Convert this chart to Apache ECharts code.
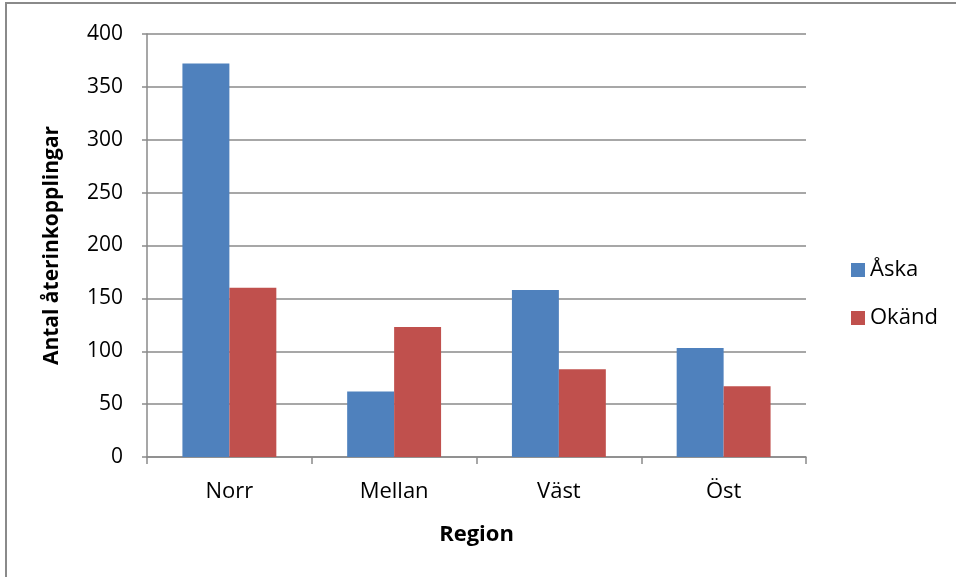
<!DOCTYPE html>
<html>
<head>
<meta charset="utf-8">
<script src="https://cdn.jsdelivr.net/npm/echarts@6/dist/echarts.min.js"></script>
<style>
  html, body { margin: 0; padding: 0; background: #fff; }
  #chart { position: absolute; left: 0; top: 0; width: 956px; height: 577px; }
  #frame {
    position: absolute; left: 5px; top: 2px; width: 980px; height: 600px;
    border: 2px solid #8a8a8a; pointer-events: none;
  }
</style>
</head>
<body>
<div id="chart"></div>
<div id="frame"></div>
<script>
const regions = ['Norr', 'Mellan', 'Väst', 'Öst']
const askaValues = [372, 62, 158, 103]
const okandValues = [160, 123, 83, 67]
const seriesNames = ['Åska', 'Okänd']

const font = '"Open Sans", "Noto Sans", sans-serif'
const gray = '#8a8a8a'

const chart = echarts.init(document.getElementById('chart'), null, { renderer: 'canvas' })
chart.setOption({
  animation: false,
  textStyle: { fontFamily: font },
  grid: { left: 147, right: 150, top: 34, bottom: 120 },
  legend: {
    orient: 'vertical',
    left: 846,
    top: 254,
    itemWidth: 14,
    itemHeight: 14,
    itemGap: 26,
    itemStyle: { borderWidth: 0 },
    icon: 'rect',
    textStyle: { fontSize: 22, color: '#000', fontFamily: font },
    data: seriesNames,
  },
  xAxis: {
    type: 'category',
    data: regions,
    name: 'Region',
    nameLocation: 'middle',
    nameGap: 67,
    nameTextStyle: { fontSize: 22, fontWeight: 'bold', color: '#000', fontFamily: font },
    axisLine: { lineStyle: { color: gray, width: 1.5 } },
    axisTick: { show: true, length: 7, lineStyle: { color: gray, width: 1.5 } },
    axisLabel: { fontSize: 22, color: '#000', margin: 24, fontFamily: font },
  },
  yAxis: {
    type: 'value',
    min: 0,
    max: 400,
    interval: 50,
    name: 'Antal återinkopplingar',
    nameLocation: 'middle',
    nameGap: 84,
    nameRotate: 90,
    nameTextStyle: { fontSize: 21, fontWeight: 'bold', color: '#000', fontFamily: font },
    axisLine: { show: true, lineStyle: { color: gray, width: 1.5 } },
    axisTick: { show: true, inside: false, length: 5, lineStyle: { color: gray, width: 1.5 } },
    axisLabel: { fontSize: 21, color: '#000', margin: 24, fontFamily: font },
    splitLine: { lineStyle: { color: gray, width: 1.5 } },
  },
  series: [
    {
      name: seriesNames[0],
      type: 'bar',
      data: askaValues,
      barGap: '0%',
      barCategoryGap: '43%',
      itemStyle: { color: '#4f81bd' },
    },
    {
      name: seriesNames[1],
      type: 'bar',
      data: okandValues,
      barGap: '0%',
      barCategoryGap: '43%',
      itemStyle: { color: '#c0504d' },
    },
  ],
})
</script>
</body>
</html>
